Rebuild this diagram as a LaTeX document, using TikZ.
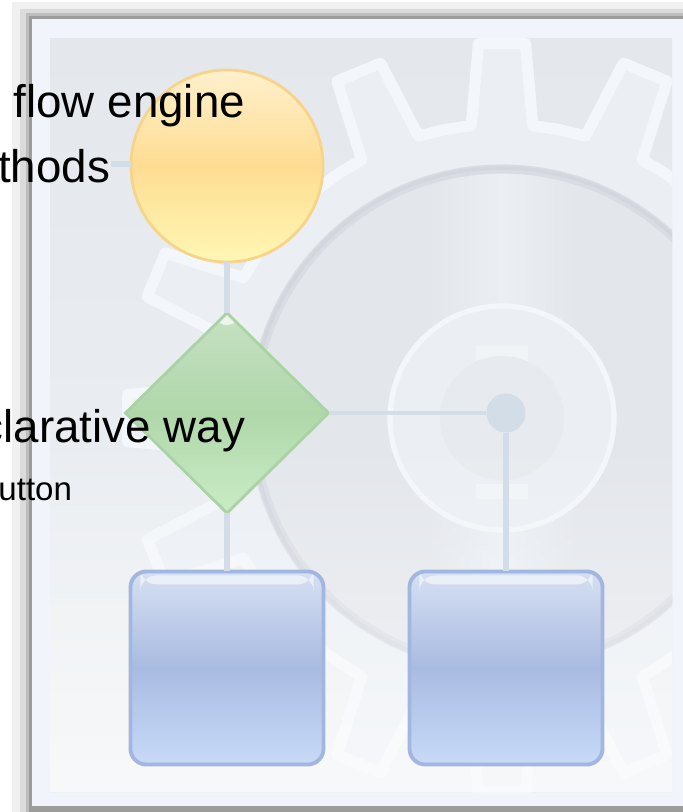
\documentclass[tikz,border=0pt]{standalone}
\usepackage{fontspec}
\setmainfont{Liberation Sans}
\usetikzlibrary{shapes.geometric,fadings}
\definecolor{connblue}{HTML}{D2DDE7}
\definecolor{yellowtop}{HTML}{FFF0CC}
\definecolor{yellowmid}{HTML}{FEDD92}
\definecolor{yellowbot}{HTML}{FFF7B4}
\definecolor{yellowedge}{HTML}{F6D58A}
\definecolor{greentop}{HTML}{C6E1C2}
\definecolor{greenmid}{HTML}{B0D7AA}
\definecolor{greenbot}{HTML}{CAECC6}
\definecolor{greenedge}{HTML}{A9D3A4}
\definecolor{bluetop}{HTML}{D6E0F2}
\definecolor{bluemid}{HTML}{A9BBE1}
\definecolor{bluebot}{HTML}{C8DAF8}
\definecolor{blueedge}{HTML}{A3B6DF}
\definecolor{framegray}{HTML}{9C9C9C}
\definecolor{stripbg}{HTML}{F1F5FB}
\definecolor{paneltop}{HTML}{E4E8ED}
\definecolor{panelbot}{HTML}{EEF1F4}
\definecolor{gearrim}{HTML}{F3F6FA}
\definecolor{gearfill}{HTML}{EBEFF4}
\definecolor{diskfill}{HTML}{E3E6EB}
\definecolor{diskedge}{HTML}{D2D6DD}

\begin{document}
\begin{tikzpicture}[
		x=0.01cm, y=-0.01cm,
		every node/.style={inner sep=0pt, outer sep=0pt},
		conn/.style={draw=connblue, line width=1.7pt},
		thinconn/.style={draw=connblue, line width=1.1pt},
		startnode/.style={circle, minimum size=1.92cm, draw=yellowedge, line width=0.8pt,
			top color=yellowtop, bottom color=yellowbot, middle color=yellowmid},
		decision/.style={diamond, minimum width=2.03cm, minimum height=2.0cm, draw=greenedge, line width=0.8pt,
			top color=greentop, bottom color=greenbot, middle color=greenmid,
			path picture={\fill[white, opacity=.7] ([shift={(0,7)}]path picture bounding box.north) ellipse (9 and 5);}},
		task/.style={rectangle, rounded corners=0.16cm, minimum width=1.93cm, minimum height=1.93cm,
			draw=blueedge, line width=1.1pt, top color=bluetop, bottom color=bluebot, middle color=bluemid,
			path picture={\fill[white, opacity=.55] ([shift={(10,4)}]path picture bounding box.north west) rectangle ([shift={(-10,13)}]path picture bounding box.north east);}},
		joint/.style={circle, minimum size=0.39cm, fill=connblue},
		bigtext/.style={font=\fontsize{13pt}{15pt}\selectfont, anchor=base east},
		smalltext/.style={font=\fontsize{9.4pt}{11pt}\selectfont, anchor=base east}
		]
		\useasboundingbox (0,0) rectangle (683,812);
		\fill[white] (0,0) rectangle (683,812);
		\fill[black!6] (12,2) rectangle (683,812);
		\fill[black!14] (20,9) rectangle (683,812);
		\fill[black!26] (26,13) rectangle (683,812);
		\fill[framegray] (29,16) rectangle (683,812);
		\fill[stripbg] (32,19) rectangle (683,806);
		\shade[top color=paneltop, bottom color=panelbot] (50,38) rectangle (672,792);
		\begin{scope}
			\clip (50,38) rectangle (672,792);
			\begin{scope}[shift={(502,418)}]
				\filldraw[fill=gearfill, draw=gearrim, line width=3.2pt, line join=round]
					({-6}:294) \foreach \a in {0,22.5,...,337.5} {
						-- ({\a-6}:294) -- ({\a-3.6}:375) -- ({\a+3.6}:375) -- ({\a+6}:294) -- ({\a+11.25}:294)
					} -- cycle;
				\fill[diskfill] (0,0) circle (250);
				\begin{scope}
					\clip (0,0) circle (250);
					\shade[left color=diskfill, right color=diskfill, middle color=gearfill] (-75,-250) rectangle (75,250);
				\end{scope}
				\draw[diskedge!60!diskfill, line width=2.6pt] (0,0) circle (249);
				\draw[diskedge, line width=1pt] (0,0) circle (250);
				\fill[gearfill] (0,0) circle (113);
				\draw[gearrim, line width=1.5pt] (0,0) circle (112);
				\fill[white, opacity=.35] (-26,-72) rectangle (26,-57);
				\fill[white, opacity=.35] (-26,66) rectangle (26,81);
				\fill[diskfill!50!gearfill] (0,0) circle (62);
			\end{scope}
			\fill[white, opacity=.55, path fading=north] (50,430) rectangle (672,792);
		\end{scope}
		\node[startnode] (start) at (227,166) {};
		\node[decision] (decide) at (227,413) {};
		\node[joint] (join) at (506,413) {};
		\node[task] (taskA) at (227,668) {};
		\node[task] (taskB) at (506,668) {};
		\coordinate (feed) at (111,164);
		\draw[conn] (feed) -- (feed -| start.west);
		\draw[conn] (start) -- (decide);
		\draw[conn] (decide) -- (taskA);
		\draw[thinconn] (decide) -- (join);
		\draw[conn] (join) -- (taskB);
		\node[bigtext] (lineA) at (245,117) {flow engine};
		\node[bigtext] (lineB) at (110,182) {thods};
		\node[bigtext] (lineC) at (245,442) {clarative way};
		\node[smalltext] (lineD) at (72,500) {utton};
	\end{tikzpicture}
\end{document}
